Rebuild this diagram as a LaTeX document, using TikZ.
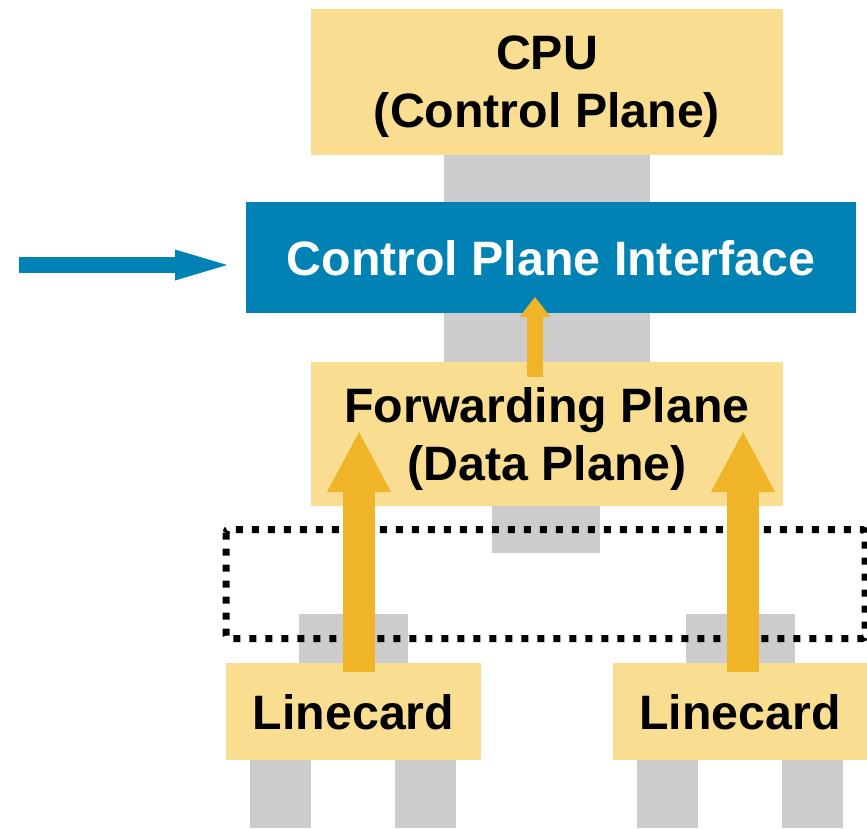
\documentclass[tikz,border=0pt]{standalone}
\usepackage{fontspec}
\setmainfont{Liberation Sans}
\usetikzlibrary{arrows.meta}
\definecolor{cream}{HTML}{F9DD91}
\definecolor{cpiblue}{HTML}{0082B5}
\definecolor{arrorange}{HTML}{F0B429}
\definecolor{connector}{HTML}{CCCCCC}
\tikzset{
  box/.style={fill=cream, inner sep=0pt},
  bluebox/.style={fill=cpiblue, inner sep=0pt},
  lbl/.style={inner sep=0pt, align=center,
    font=\bfseries\fontsize{48.3}{58}\selectfont},
  link/.style={fill=connector},
  bigarrow/.style={draw=arrorange, line width=32pt, line cap=butt,
    -{Triangle[length=60pt,width=64pt,line width=0pt,fill=arrorange]}},
  smallarrow/.style={draw=arrorange, line width=16pt, line cap=butt,
    -{Triangle[length=20pt,width=31pt,line width=0pt,fill=arrorange]}},
  inarrow/.style={draw=cpiblue, line width=16pt, line cap=butt,
    -{Triangle[length=52pt,width=31pt,line width=0pt,fill=cpiblue]}},
  dotbox/.style={draw=black, line width=7pt, dash pattern=on 7pt off 9pt, rounded corners=3pt}
}
\begin{document}
\begin{tikzpicture}[x=1pt, y=-1pt]
\useasboundingbox (0,0) rectangle (867,828);
% gray connectors
\fill[link] (444,150) rectangle (650,206);
\fill[link] (444,308) rectangle (650,366);
\fill[link] (492,500) rectangle (600,553);
\fill[link] (299,614) rectangle (408,668);
\fill[link] (686,614) rectangle (795,668);
\fill[link] (250,755) rectangle (311,828);
\fill[link] (395,755) rectangle (456,828);
\fill[link] (637,755) rectangle (698,828);
\fill[link] (782,755) rectangle (843,828);
% boxes
\node[box, minimum width=472pt, minimum height=146pt] (cpu) at (547,82) {};
\node[lbl] (cputext) at ([yshift=-5pt]cpu.center) {CPU\\(Control Plane)};
\node[bluebox, minimum width=610pt, minimum height=111pt] (cpi) at (551,257.5) {};
\node[lbl, text=white] (cpitext) at ([yshift=-1pt]cpi.center) {Control Plane Interface};
\node[box, minimum width=472pt, minimum height=144pt] (fp) at (547,434) {};
\node[lbl] (fptext) at ([yshift=-5pt]fp.center) {Forwarding Plane\\(Data Plane)};
\node[box, minimum width=255pt, minimum height=97pt] (lc1) at (353.5,711.5) {};
\node[lbl] (lc1text) at ([yshift=-1pt]lc1.center) {Linecard};
\node[box, minimum width=254pt, minimum height=97pt] (lc2) at (740,711.5) {};
\node[lbl] (lc2text) at ([yshift=-1pt]lc2.center) {Linecard};
% dotted rectangle
\coordinate (d1) at (226,529.5);
\coordinate (d2) at (865,638.5);
\draw[dotbox] (d1) rectangle (d2);
% arrows
\coordinate (a1s) at (359,672);
\coordinate (a1e) at (359,432);
\coordinate (a2s) at (743,672);
\coordinate (a2e) at (743,432);
\coordinate (a3s) at (535,377);
\coordinate (a3e) at (535,297);
\coordinate (a4s) at (19,265);
\coordinate (a4e) at (227,265);
\draw[bigarrow] (a1s) -- (a1e);
\draw[bigarrow] (a2s) -- (a2e);
\draw[smallarrow] (a3s) -- (a3e);
\draw[inarrow] (a4s) -- (a4e);
\end{tikzpicture}
\end{document}
